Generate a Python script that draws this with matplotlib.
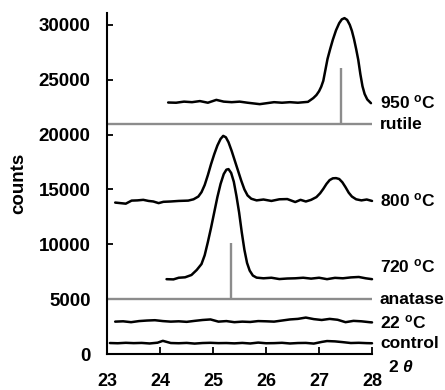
import matplotlib
matplotlib.use("Agg")
import matplotlib.pyplot as plt

plt.rcParams['font.family'] = ['Liberation Sans', 'DejaVu Sans']
plt.rcParams['font.weight'] = 'bold'
plt.rcParams['mathtext.fontset'] = 'custom'
plt.rcParams['mathtext.rm'] = 'Liberation Sans:bold'
plt.rcParams['mathtext.it'] = 'Liberation Sans:italic:bold'
plt.rcParams['mathtext.bf'] = 'Liberation Sans:bold'

# ---- data (2-theta in degrees, counts) ----
control_x = [23.05, 23.2, 23.35, 23.5, 23.65, 23.8, 23.95, 24.05, 24.2, 24.35, 24.5, 24.65, 24.8,
             24.95, 25.1, 25.25, 25.4, 25.55, 25.7, 25.85, 26.0, 26.15, 26.3, 26.45, 26.6, 26.75,
             26.9, 27.05, 27.15, 27.3, 27.45, 27.6, 27.75, 27.9, 28.0]
control_y = [1000, 980, 1020, 990, 1010, 960, 1030, 1200, 1000, 980, 1010, 950, 1000,
             1020, 990, 1000, 970, 1010, 960, 1040, 980, 990, 1020, 960, 1000, 1010,
             950, 1100, 1180, 1150, 1080, 1000, 1020, 990, 980]

c22_x = [23.15, 23.3, 23.45, 23.6, 23.75, 23.9, 24.05, 24.2, 24.35, 24.5, 24.65, 24.8, 24.95,
         25.1, 25.25, 25.4, 25.55, 25.7, 25.85, 26.0, 26.15, 26.3, 26.45, 26.6, 26.75, 26.9,
         27.05, 27.2, 27.35, 27.5, 27.65, 27.8, 27.95, 28.0]
c22_y = [2950, 2980, 2900, 3000, 3050, 3080, 3000, 2950, 2980, 2930, 3020, 3100, 3150,
         2950, 3000, 2900, 2950, 2920, 3000, 2980, 2950, 3050, 3150, 3200, 3320, 3180,
         3100, 3200, 3120, 2900, 3020, 2980, 2900, 2880]

c720_x = [24.12, 24.25, 24.35, 24.47, 24.59, 24.69, 24.78, 24.84, 24.9, 24.96, 25.02, 25.08,
          25.14, 25.2, 25.25, 25.29, 25.34, 25.39, 25.44, 25.49, 25.54, 25.59, 25.64, 25.69,
          25.75, 25.82, 25.95, 26.1, 26.25, 26.4, 26.55, 26.7, 26.85, 27.0, 27.15, 27.3,
          27.45, 27.6, 27.75, 27.88, 28.0]
c720_y = [6820, 6800, 6950, 6990, 7200, 7660, 8200, 9000, 10200, 11500, 12900, 14300,
          15500, 16400, 16800, 16850, 16500, 15700, 14400, 12900, 11100, 9500, 8300, 7600,
          7150, 6960, 6900, 6950, 6830, 6880, 6900, 6950, 6870, 6950, 6820, 6940,
          6900, 6980, 7020, 6900, 6820]

c800_x = [23.15, 23.25, 23.35, 23.46, 23.57, 23.68, 23.78, 23.87, 23.97, 24.06, 24.2, 24.35,
          24.53, 24.63, 24.72, 24.78, 24.84, 24.9, 24.96, 25.02, 25.08, 25.14, 25.19, 25.24,
          25.29, 25.35, 25.41, 25.47, 25.53, 25.59, 25.65, 25.72, 25.82, 25.95, 26.1, 26.25,
          26.4, 26.55, 26.65, 26.75, 26.85, 26.95, 27.02, 27.08, 27.14, 27.2, 27.26, 27.32,
          27.38, 27.44, 27.5, 27.56, 27.62, 27.7, 27.8, 27.9, 28.0]
c800_y = [13800, 13750, 13700, 13980, 14000, 14050, 13950, 13900, 13750, 13870, 13900, 13950,
          13980, 14100, 14350, 14750, 15400, 16300, 17300, 18200, 19000, 19600, 19880, 19750,
          19300, 18500, 17600, 16700, 15800, 15000, 14450, 14150, 14000, 14080, 13950, 14100,
          14120, 13850, 14050, 13900, 14050, 14300, 14650, 15050, 15500, 15850, 16010, 16030,
          15950, 15650, 15200, 14700, 14350, 14100, 14000, 14080, 13950]

c950_x = [24.15, 24.3, 24.45, 24.6, 24.75, 24.9, 25.06, 25.2, 25.35, 25.5, 25.65, 25.88,
          26.0, 26.15, 26.3, 26.45, 26.6, 26.79, 26.89, 26.95, 27.0, 27.04, 27.08, 27.12,
          27.16, 27.21, 27.26, 27.32, 27.38, 27.43, 27.48, 27.53, 27.58, 27.62, 27.66, 27.7,
          27.74, 27.78, 27.82, 27.86, 27.91, 27.98]
c950_y = [22920, 22900, 23000, 22950, 23050, 22900, 23160, 23000, 22950, 23000, 22900, 22770,
          22850, 22950, 22900, 22950, 22900, 22980, 23320, 23600, 23950, 24350, 24900, 25900,
          26900, 27800, 28640, 29500, 30150, 30500, 30610, 30450, 30000, 29450, 28700, 27800,
          26810, 25500, 24400, 23700, 23200, 22860]

anatase_pos, anatase_top, anatase_base = 25.33, 10100, 5000
rutile_pos, rutile_top, rutile_base = 27.42, 26060, 20950

labels = ['950 $^{\\rm o}$C', 'rutile', '800 $^{\\rm o}$C', '720 $^{\\rm o}$C', 'anatase',
          '22 $^{\\rm o}$C', 'control']
label_y = [22950, 20950, 14050, 7950, 5000, 2900, 1000]

xticks = [23, 24, 25, 26, 27, 28]
yticks = [0, 5000, 10000, 15000, 20000, 25000, 30000]

# ---- figure ----
fig = plt.figure(figsize=(4.45, 3.9), dpi=100)
ax = fig.add_axes([0.241, 0.0923, 0.595, 0.875])

gray = '#8c8c8c'
ax.plot([23, 28], [anatase_base, anatase_base], color=gray, lw=1.7, solid_capstyle='butt', clip_on=False)
ax.plot([anatase_pos, anatase_pos], [anatase_base, anatase_top], color=gray, lw=1.7, solid_capstyle='butt')
ax.plot([23, 28], [rutile_base, rutile_base], color=gray, lw=1.7, solid_capstyle='butt', clip_on=False)
ax.plot([rutile_pos, rutile_pos], [rutile_base, rutile_top], color=gray, lw=1.7, solid_capstyle='butt')

for xs, ys in [(control_x, control_y), (c22_x, c22_y), (c720_x, c720_y),
               (c800_x, c800_y), (c950_x, c950_y)]:
    ax.plot(xs, ys, color='black', lw=1.8, clip_on=False, solid_joinstyle='round',
            solid_capstyle='round')

for t, y in zip(labels, label_y):
    ax.text(28.15, y, t, fontsize=12.5, fontweight='bold', va='center', ha='left', clip_on=False)
ax.text(28.3, -1150, '2 $\\it{\\theta}$', fontsize=12.5, fontweight='bold', va='center', ha='left')

ax.set_xlim(23, 28)
ax.set_ylim(0, 31100)
ax.set_xticks(xticks)
ax.set_yticks(yticks)
ax.set_xticklabels([str(v) for v in xticks], fontsize=13, fontweight='bold')
ax.set_yticklabels([str(v) for v in yticks], fontsize=13.5, fontweight='bold')
ax.tick_params(axis='x', direction='in', length=5, width=1.3, pad=14)
ax.tick_params(axis='y', direction='in', length=4, width=1.3, pad=12)
ax.spines['top'].set_visible(False)
ax.spines['right'].set_visible(False)
for s in ['left', 'bottom']:
    ax.spines[s].set_linewidth(1.5)
ax.set_ylabel('counts', fontsize=13.5, fontweight='bold', labelpad=8)
ax.patch.set_alpha(0)

fig.savefig('out.png', dpi=100)
